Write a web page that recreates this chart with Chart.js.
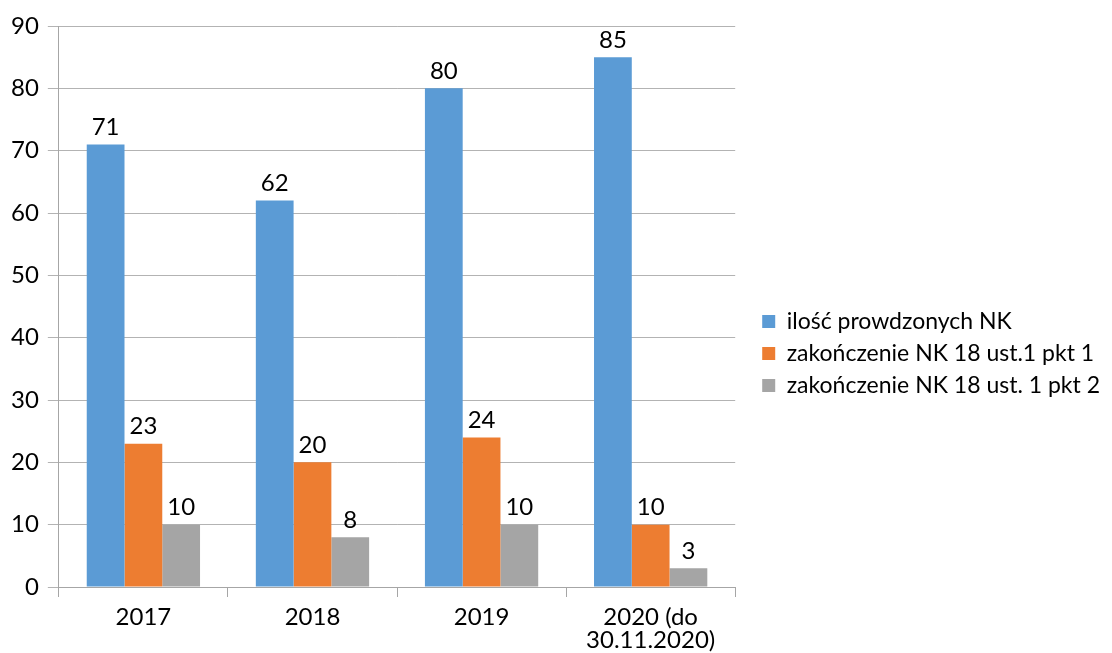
<!DOCTYPE html>
<html><head><meta charset="utf-8">
<script src="https://cdn.jsdelivr.net/npm/chart.js@4/dist/chart.umd.min.js"></script>
<style>html,body{margin:0;padding:0;background:#fff}#w{width:1112px;height:653px}</style>
</head><body><div id="w"><canvas id="c"></canvas></div>
<script>
const categories = [["2017"], ["2018"], ["2019"], ["2020 (do", "30.11.2020)"]];
const seriesNames = ["ilość prowdzonych NK", "zakończenie NK 18 ust.1 pkt 1", "zakończenie NK 18 ust. 1 pkt 2"];
const seriesA = [71, 62, 80, 85];
const seriesB = [23, 20, 24, 10];
const seriesC = [10, 8, 10, 3];
const colors = ["#5b9bd5", "#ed7d31", "#a5a5a5"];
const FONT = "Lato, 'Open Sans', sans-serif";
const FS = 24;

const labelPlugin = {
  id: 'vals',
  afterDatasetsDraw(chart) {
    const ctx = chart.ctx;
    ctx.save();
    ctx.font = FS + "px " + FONT;
    ctx.fillStyle = "#000";
    ctx.textAlign = "center";
    ctx.textBaseline = "bottom";
    chart.data.datasets.forEach((ds, i) => {
      chart.getDatasetMeta(i).data.forEach((el, j) => {
        ctx.fillText(ds.data[j], el.x, el.y - 5);
      });
    });
    ctx.restore();
  }
};

function draw() {
new Chart(document.getElementById('c'), {
  type: 'bar',
  data: {
    labels: categories,
    datasets: [seriesA, seriesB, seriesC].map((d, i) => ({
      label: seriesNames[i], data: d, backgroundColor: colors[i],
      categoryPercentage: 0.67, barPercentage: 1.0
    }))
  },
  options: {
    responsive: true, maintainAspectRatio: false, animation: false,
    layout: { padding: { top: 26, left: 2, right: 2, bottom: 0 } },
    plugins: {
      legend: {
        position: 'right',
        maxWidth: 380,
        title: { display: true, text: ' ', font: { size: 10 }, padding: 8 },
        labels: { font: { family: FONT, size: 23 }, color: '#000', boxWidth: 13, boxHeight: 13, padding: 9 }
      },
      tooltip: { enabled: false }
    },
    scales: {
      x: {
        grid: { display: true, drawOnChartArea: false, color: '#a6a6a6', tickLength: 10, offset: true },
        border: { color: '#a6a6a6' },
        ticks: { font: { family: FONT, size: FS, lineHeight: 0.96 }, color: '#000', padding: 8.5 },
        afterFit(s) { s.height = 66; }
      },
      y: {
        min: 0, max: 90,
        ticks: { stepSize: 10, font: { family: FONT, size: FS }, color: '#000', padding: 9 },
        grid: { color: '#b3b3b3', tickLength: 11 },
        border: { color: '#a6a6a6' }
      },
      gap: {
        type: 'linear', position: 'right', display: true,
        grid: { display: false }, border: { display: false }, ticks: { display: false },
        afterFit(s) { s.width = 18; }
      }
    }
  },
  plugins: [labelPlugin]
});
}
Promise.all([document.fonts.load(FS + "px Lato")]).then(draw, draw);
</script></body></html>
